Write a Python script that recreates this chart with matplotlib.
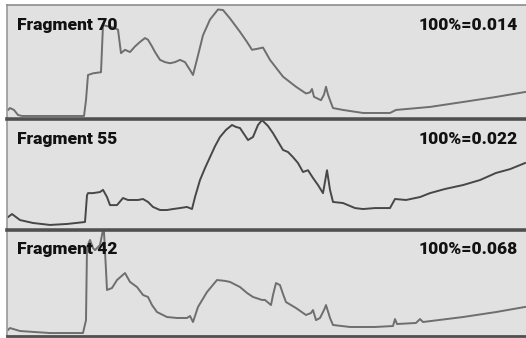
import matplotlib
matplotlib.use("Agg")
import matplotlib.pyplot as plt

# traces: position along run, signal as % of panel full scale
pos_70 = [8, 10, 14, 18, 22, 50, 84, 86, 88, 93, 101, 103, 108, 113, 118, 120, 121,
          125, 130, 135, 140, 145, 148, 152, 155, 160, 165, 170, 175, 180, 185, 190,
          193, 198, 203, 210, 218, 223, 230, 240, 247, 252, 258, 263, 270, 283, 296,
          306, 310, 312, 314, 321, 324, 326, 328, 330, 333, 343, 363, 390, 396, 430,
          463, 496, 525]
sig_70 = [6.3, 8.0, 6.3, 1.8, 0.9, 0.9, 0.9, 15, 37.5, 39, 40, 82, 81, 80, 78, 64, 57,
          60, 58, 63, 67, 70.5, 69, 63, 58, 51, 49, 48, 49, 51, 49, 42,
          37.5, 55, 73, 87, 96, 95.5, 88, 76, 67, 60, 61, 62, 51, 36, 27,
          21, 22, 25, 18, 15, 20, 27, 20, 15, 8, 6.3, 3.6, 3.6, 6.3, 9,
          13.4, 17.9, 22.3]

pos_55 = [8, 12, 20, 33, 50, 67, 85, 87, 88, 93, 100, 103, 107, 110, 117, 123, 128,
          133, 138, 143, 148, 153, 160, 167, 173, 180, 187, 192, 195, 200, 205, 210,
          215, 220, 226, 232, 236, 240, 248, 253, 258, 262, 268, 273, 283, 288, 293,
          298, 303, 308, 313, 318, 323, 327, 330, 333, 343, 355, 363, 375, 390, 395,
          406, 420, 430, 445, 463, 480, 496, 510, 525]
sig_55 = [10, 12.8, 7.3, 4.6, 2.8, 3.7, 5.5, 30, 32, 32, 33, 35, 28.4, 21, 21, 27.5, 25.7,
          25.7, 25.7, 26.6, 23.9, 19.3, 16.5, 16.5, 17.4, 18.3, 19.3, 17.4, 28.4, 44, 55, 65,
          75, 83.5, 90, 94.5, 92.7, 91.7, 80.7, 83.5, 94.5, 99, 93.6, 87, 71.6, 69.7, 65,
          59.6, 51.4, 53, 45.9, 39.4, 32, 53, 35, 23.9, 22.9, 18.3, 17.4, 18.3, 18.3, 26.6,
          25.7, 28.4, 32, 35.8, 39.4, 44, 50.5, 54, 59.6]

pos_42 = [8, 10, 20, 50, 83, 86, 87, 90, 93, 95, 100, 103, 104, 106, 107, 112, 117,
          125, 130, 137, 143, 148, 152, 157, 167, 177, 187, 190, 193, 198, 207, 217,
          225, 230, 240, 247, 253, 262, 265, 271, 273, 276, 280, 283, 286, 296, 306,
          311, 313, 316, 320, 324, 326, 330, 333, 350, 375, 393, 395, 397, 416, 420,
          423, 463, 496, 525]
sig_42 = [5.7, 7.5, 4.7, 2.8, 2.8, 15, 84, 90.6, 83, 81, 85.8, 100, 98, 62, 43.4, 45.3, 52.8,
          59.4, 51, 46.2, 38.7, 36.8, 29.2, 22.6, 17.9, 17, 17, 18.9, 13.2, 27.4, 41.5, 52.8,
          52, 51, 46.2, 40.6, 36.8, 34, 34, 29.2, 38.7, 50, 48, 39.6, 32, 26.4, 19.8,
          21.7, 24.5, 15, 17, 24.5, 29.2, 17, 10.4, 8.5, 8.5, 9.4, 16, 11.3, 12.3, 16,
          13.2, 17.9, 22.6, 27.4]

names = ["Fragment 70", "Fragment 55", "Fragment 42"]
scales = ["100%=0.014", "100%=0.022", "100%=0.068"]

fig = plt.figure(figsize=(5.26, 3.38), dpi=100)
fig.patch.set_facecolor("white")

# panel boxes in figure pixels: (top, bottom)
boxes = [(5, 117), (119, 228), (230, 336)]
traces = [(pos_70, sig_70, "#6e6e6e"), (pos_55, sig_55, "#474747"), (pos_42, sig_42, "#6e6e6e")]
font = ["Roboto", "DejaVu Sans"]

for i, ((top, bot), (xs, ys, col)) in enumerate(zip(boxes, traces)):
    ax = fig.add_axes([7 / 526, (338 - bot) / 338, 519 / 526, (bot - top) / 338])
    ax.set_facecolor("#e1e1e1")
    ax.plot(xs, ys, color=col, lw=1.4)
    ax.set_xlim(7, 526)
    ax.set_ylim(0, 100)
    ax.set_xticks([])
    ax.set_yticks([])
    ax.spines["right"].set_visible(False)
    ax.spines["left"].set_color("#9a9a9a")
    ax.spines["left"].set_linewidth(1.2)
    if i == 0:
        ax.spines["top"].set_color("#8c8c8c")
        ax.spines["top"].set_linewidth(1.2)
    else:
        ax.spines["top"].set_color("#4f4f4f")
        ax.spines["top"].set_linewidth(2.6)
    if i == 2:
        ax.spines["bottom"].set_color("#4f4f4f")
        ax.spines["bottom"].set_linewidth(2.0)
    else:
        ax.spines["bottom"].set_visible(False)
    ax.text(0.02, 0.82, names[i], transform=ax.transAxes, fontsize=12.5,
            fontweight="black", family=font, color="#111111", va="center", ha="left")
    ax.text(0.985, 0.82, scales[i], transform=ax.transAxes, fontsize=12.5,
            fontweight="black", family=font, color="#111111", va="center", ha="right")

fig.savefig("out.png", dpi=100)
